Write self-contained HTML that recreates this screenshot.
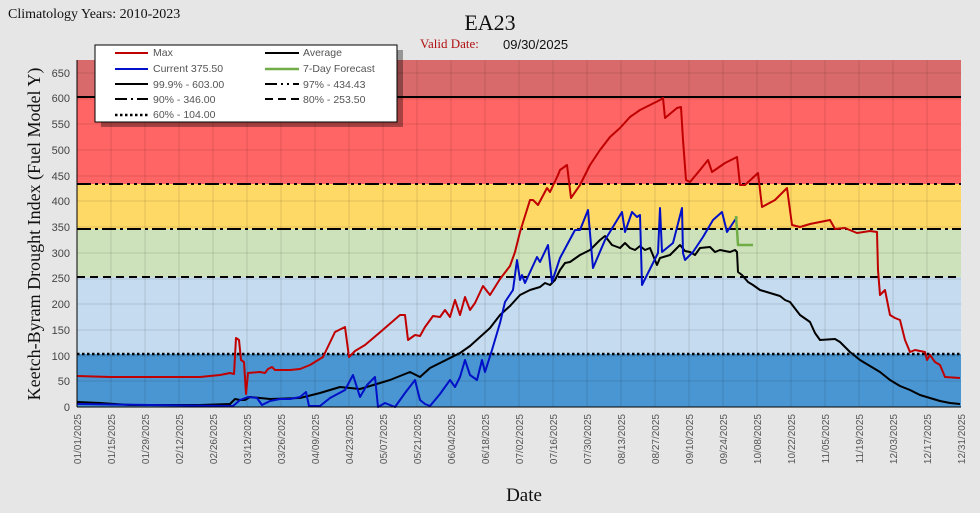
<!DOCTYPE html>
<html><head><meta charset="utf-8"><style>
body{margin:0;background:#e6e6e6;}
svg{display:block;font-family:"Liberation Sans",sans-serif;}
</style></head><body>
<svg width="980" height="513" viewBox="0 0 980 513" xmlns="http://www.w3.org/2000/svg">
<rect width="980" height="513" fill="#e6e6e6"/>
<text x="8" y="18" font-family="Liberation Serif" font-size="14" fill="#111">Climatology Years: 2010-2023</text>
<text x="490" y="30" font-family="Liberation Serif" font-size="22" text-anchor="middle" fill="#111">EA23</text>
<text x="420" y="48" font-family="Liberation Serif" font-size="13" fill="#b01010">Valid Date:</text>
<text x="503" y="49" font-size="13" fill="#111">09/30/2025</text>
<!-- bands -->
<rect x="77" y="60" width="884" height="37" fill="#d96a6b"/>
<rect x="77" y="97" width="884" height="87" fill="#ff6565"/>
<rect x="77" y="184" width="884" height="45" fill="#ffd966"/>
<rect x="77" y="229" width="884" height="48" fill="#cde2bb"/>
<rect x="77" y="277" width="884" height="77" fill="#c5dbf0"/>
<rect x="77" y="354" width="884" height="53" fill="#4a96d2"/>
<g stroke="#000" stroke-opacity="0.12" stroke-width="1">
<path d="M77 73H961M77 99H961M77 124H961M77 150H961M77 176H961M77 201H961M77 227H961M77 253H961M77 279H961M77 304H961M77 330H961M77 356H961M77 381H961"/>
<path d="M111 60V407M145 60V407M179 60V407M213 60V407M247 60V407M281 60V407M315 60V407M349 60V407M383 60V407M417 60V407M451 60V407M485 60V407M519 60V407M553 60V407M587 60V407M621 60V407M655 60V407M689 60V407M723 60V407M757 60V407M791 60V407M825 60V407M859 60V407M893 60V407M927 60V407"/>
</g>
<!-- threshold lines -->
<line x1="77" y1="97" x2="961" y2="97" stroke="#000" stroke-width="2"/>
<line x1="77" y1="184" x2="961" y2="184" stroke="#000" stroke-width="2" stroke-dasharray="14,4,3,4,3,4"/>
<line x1="77" y1="229" x2="961" y2="229" stroke="#000" stroke-width="2" stroke-dasharray="14,4,3,4"/>
<line x1="77" y1="277" x2="961" y2="277" stroke="#000" stroke-width="2" stroke-dasharray="8,5"/>
<line x1="77" y1="354" x2="961" y2="354" stroke="#000" stroke-width="2.5" stroke-dasharray="2.5,2.5"/>
<!-- series -->
<g fill="none" stroke-width="2" stroke-linejoin="round">
<polyline stroke="#c00000" points="77,376 110,377 160,377 200,377 220,375 230,373 234,374 236,338 239,340 241,360 244,362 246,394 248,373 260,372 265,373 268,369 272,367 275,370 290,370 300,369 310,365 323,357 335,332 345,327 349,357 355,351 365,345 378,334 400,315 405,315 408,340 415,335 420,336 425,327 433,316 440,317 445,310 450,317 455,300 460,315 465,297 470,310 475,303 483,286 490,295 500,279 510,266 515,252 520,232 530,200 533,200 538,205 547,188 550,192 558,175 560,170 567,165 571,198 580,185 590,165 600,150 610,137 620,128 630,117 640,110 650,105 660,100 663,98 665,118 677,108 681,107 683,140 686,180 690,182 700,170 708,160 712,172 725,163 735,158 737,157 740,185 745,185 758,173 762,207 775,200 787,188 792,225 800,227 810,224 820,222 830,220 835,229 845,228 857,233 870,231 877,232 878,270 880,295 885,290 890,315 895,318 900,320 905,340 910,352 915,350 925,352 927,360 930,355 935,362 940,365 945,377 960,378"/>
<polyline stroke="#000" points="77,402 100,403 130,405 200,405 230,404 235,399 240,400 245,400 250,397 270,399 300,398 320,393 330,390 340,387 350,388 360,389 380,383 390,380 400,376 410,372 420,377 430,368 440,363 450,358 460,353 470,346 480,337 490,328 500,315 510,306 520,295 530,290 540,287 545,283 550,285 555,280 560,270 565,263 570,262 580,255 590,250 600,240 605,236 612,245 620,248 625,243 630,248 635,250 640,246 645,250 650,248 657,265 660,258 670,255 675,250 680,245 685,251 690,252 695,255 700,248 710,247 715,252 720,250 730,252 735,250 737,252 738,272 742,275 748,282 753,285 760,290 770,293 780,296 785,300 790,302 800,315 810,322 815,333 820,340 835,339 840,342 850,352 860,360 870,366 880,372 890,380 900,386 910,390 920,395 930,398 940,401 950,403 960,404"/>
<polyline stroke="#0010c8" points="77,404 150,405 233,406 240,400 248,397 257,398 262,405 270,401 280,399 290,399 300,397 306,392 309,406 320,406 330,398 345,390 353,375 360,397 367,385 375,377 378,407 385,403 395,407 405,393 415,380 420,400 425,404 430,406 440,394 450,380 455,387 460,377 465,360 470,375 477,380 482,360 485,372 492,350 500,323 505,302 513,290 517,260 520,280 522,275 525,283 537,257 540,262 548,245 552,282 560,258 575,230 580,230 588,210 593,268 605,240 622,212 625,232 632,212 637,217 640,215 642,285 658,253 660,208 662,252 673,243 682,208 683,253 685,260 693,252 703,237 713,220 722,212 727,232 737,217"/>
<polyline stroke="#70ad47" stroke-width="2.5" points="736,216 737,230 738,245 753,245"/>
</g>
<!-- axes -->
<g stroke="#000" stroke-width="1">
<line x1="77" y1="60" x2="77" y2="407"/>
<line x1="77" y1="407" x2="961" y2="407"/>
</g>
<g font-size="10" fill="#555" text-anchor="end">
<text transform="translate(81,414) rotate(-90)">01/01/2025</text>
<text transform="translate(115,414) rotate(-90)">01/15/2025</text>
<text transform="translate(149,414) rotate(-90)">01/29/2025</text>
<text transform="translate(183,414) rotate(-90)">02/12/2025</text>
<text transform="translate(217,414) rotate(-90)">02/26/2025</text>
<text transform="translate(251,414) rotate(-90)">03/12/2025</text>
<text transform="translate(285,414) rotate(-90)">03/26/2025</text>
<text transform="translate(319,414) rotate(-90)">04/09/2025</text>
<text transform="translate(353,414) rotate(-90)">04/23/2025</text>
<text transform="translate(387,414) rotate(-90)">05/07/2025</text>
<text transform="translate(421,414) rotate(-90)">05/21/2025</text>
<text transform="translate(455,414) rotate(-90)">06/04/2025</text>
<text transform="translate(489,414) rotate(-90)">06/18/2025</text>
<text transform="translate(523,414) rotate(-90)">07/02/2025</text>
<text transform="translate(557,414) rotate(-90)">07/16/2025</text>
<text transform="translate(591,414) rotate(-90)">07/30/2025</text>
<text transform="translate(625,414) rotate(-90)">08/13/2025</text>
<text transform="translate(659,414) rotate(-90)">08/27/2025</text>
<text transform="translate(693,414) rotate(-90)">09/10/2025</text>
<text transform="translate(727,414) rotate(-90)">09/24/2025</text>
<text transform="translate(761,414) rotate(-90)">10/08/2025</text>
<text transform="translate(795,414) rotate(-90)">10/22/2025</text>
<text transform="translate(829,414) rotate(-90)">11/05/2025</text>
<text transform="translate(863,414) rotate(-90)">11/19/2025</text>
<text transform="translate(897,414) rotate(-90)">12/03/2025</text>
<text transform="translate(931,414) rotate(-90)">12/17/2025</text>
<text transform="translate(965,414) rotate(-90)">12/31/2025</text>
</g>
<text x="524" y="501" font-family="Liberation Serif" font-size="19" text-anchor="middle" fill="#111">Date</text>
<text transform="translate(40,234) rotate(-90)" font-family="Liberation Serif" font-size="18" text-anchor="middle" fill="#111">Keetch-Byram Drought Index (Fuel Model Y)</text>
<!-- legend -->
<rect x="98" y="47" width="302" height="77" fill="#000" opacity="0.35" transform="translate(3,3)"/>
<rect x="95" y="45" width="302" height="77" fill="#fff" stroke="#000" stroke-width="1"/>
<g font-size="10.5" fill="#555">
<text x="153" y="56">Max</text><text x="303" y="56">Average</text>
<text x="153" y="72">Current 375.50</text><text x="303" y="72">7-Day Forecast</text>
<text x="153" y="88">99.9% -  603.00</text><text x="303" y="88">97% -  434.43</text>
<text x="153" y="103">90% -  346.00</text><text x="303" y="103">80% -  253.50</text>
<text x="153" y="118">60%  - 104.00</text>
</g>
<g stroke-width="2" fill="none">
<line x1="115" y1="53" x2="148" y2="53" stroke="#c00000"/>
<line x1="265" y1="53" x2="299" y2="53" stroke="#000"/>
<line x1="115" y1="69" x2="148" y2="69" stroke="#0010c8"/>
<line x1="265" y1="69" x2="299" y2="69" stroke="#70ad47" stroke-width="2.5"/>
<line x1="115" y1="84" x2="148" y2="84" stroke="#000"/>
<line x1="265" y1="84" x2="299" y2="84" stroke="#000" stroke-dasharray="12,4,2,4,2,4"/>
<line x1="115" y1="99" x2="148" y2="99" stroke="#000" stroke-dasharray="12,4,2,4"/>
<line x1="265" y1="99" x2="299" y2="99" stroke="#000" stroke-dasharray="8,5"/>
<line x1="115" y1="115" x2="148" y2="115" stroke="#000" stroke-dasharray="2.5,2.5" stroke-width="2.5"/>
</g>
<g font-size="11" fill="#444" text-anchor="end">
<text x="70" y="77">650</text><text x="70" y="102">600</text><text x="70" y="128">550</text><text x="70" y="154">500</text><text x="70" y="180">450</text><text x="70" y="205">400</text><text x="70" y="231">350</text><text x="70" y="257">300</text><text x="70" y="282">250</text><text x="70" y="308">200</text><text x="70" y="334">150</text><text x="70" y="360">100</text><text x="70" y="385">50</text><text x="70" y="411">0</text>
</g>
</svg>
</body></html>
